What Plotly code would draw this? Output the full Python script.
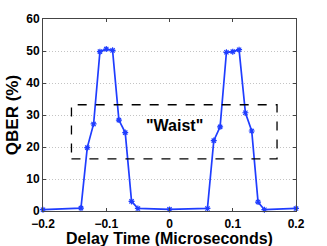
import plotly.graph_objects as go

delay_us = [-0.2, -0.14, -0.13, -0.12, -0.11, -0.10, -0.09, -0.08, -0.07, -0.06, -0.05,
            0.0, 0.06, 0.07, 0.08, 0.09, 0.10, 0.11, 0.12, 0.13, 0.14, 0.15, 0.2]
qber = [0.4, 0.9, 19.8, 27.2, 49.8, 50.6, 50.2, 28.4, 24.5, 3.0, 0.8,
        0.5, 0.8, 22.0, 26.3, 49.6, 49.8, 50.4, 30.7, 25.0, 2.8, 0.4, 0.8]

waist_x = [-0.155, 0.17]
waist_y = [16.3, 33.2]
waist_label = '"Waist"'

xticks = [-0.2, -0.1, 0, 0.1, 0.2]
xticklabels = ["\u22120.2", "\u22120.1", "0", "0.1", "0.2"]
yticks = [0, 10, 20, 30, 40, 50, 60]

font = "Liberation Sans, Arial, sans-serif"

fig = go.Figure()
fig.add_trace(go.Scatter(
    x=delay_us, y=qber, mode="lines+markers",
    line=dict(color="#1f3dff", width=1.7),
    marker=dict(symbol="asterisk-open", size=5, color="#1f3dff",
                line=dict(color="#1f3dff", width=1.2)),
    showlegend=False, cliponaxis=False,
))

fig.add_shape(type="rect", xref="x", yref="y",
              x0=waist_x[0], x1=waist_x[1], y0=waist_y[0], y1=waist_y[1],
              line=dict(color="black", width=1.3, dash="dash"))
fig.add_annotation(x=(waist_x[0] + waist_x[1]) / 2, y=26.6,
                   xref="x", yref="y", text="<b>" + waist_label + "</b>", showarrow=False,
                   font=dict(family=font, size=16, color="black"))
fig.add_annotation(x=0.5, y=-0.142, xref="paper", yref="paper", yanchor="middle",
                   text="<b>Delay Time (Microseconds)</b>", showarrow=False,
                   font=dict(family=font, size=16, color="black"))

fig.update_xaxes(range=[-0.2, 0.2], tickvals=xticks, ticktext=xticklabels, automargin=False,
                 showgrid=False, zeroline=False, showline=True, linecolor="#444",
                 linewidth=1, mirror="ticks", ticks="inside", ticklen=3, tickcolor="#444",
                 ticklabelstandoff=2,
                 tickfont=dict(family=font, size=12, color="black", weight="bold"))
fig.update_yaxes(range=[0, 60], tickvals=yticks, showgrid=True, gridcolor="#c4c4c4", automargin=False,
                 griddash="1px,2px", gridwidth=1, zeroline=False, showline=True, linecolor="#444",
                 linewidth=1, mirror="ticks", ticks="inside", ticklen=3, tickcolor="#444",
                 tickfont=dict(family=font, size=12, color="black", weight="bold"),
                 title=dict(text="<b>QBER (%)</b>", standoff=3,
                            font=dict(family=font, size=17, color="black")))

fig.update_layout(width=327, height=246, margin=dict(l=43, r=31, t=19, b=35),
                  paper_bgcolor="white", plot_bgcolor="white")

fig.write_html("out.html", config={"displayModeBar": False},
               post_script="document.body.style.margin='0';")
